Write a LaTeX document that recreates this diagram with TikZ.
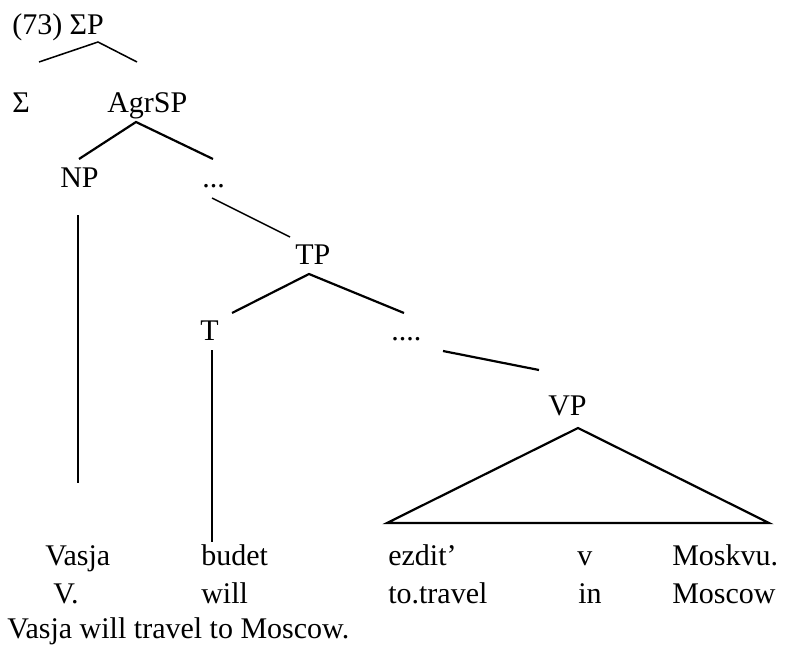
\documentclass[tikz,border=0pt]{standalone}
\usepackage{fontspec}
\setmainfont{Liberation Serif}
\begin{document}
\begin{tikzpicture}[x=0.75pt,y=-0.75pt,
  lbl/.style={anchor=base west,inner sep=0pt,font=\fontsize{22.5}{27}\selectfont},
  thinbr/.style={line width=1.15pt},
  thickbr/.style={line width=1.65pt}]
\useasboundingbox (0,0) rectangle (787,645);
% labels
\node[lbl] (ex) at (12,35) {(73) ΣP};
\node[lbl] (sig) at (12,113) {Σ};
\node[lbl] (agr) at (107,113) {AgrSP};
\node[lbl] (np) at (60,188) {NP};
\node[lbl] (d1) at (202,187) {...};
\node[lbl] (tp) at (295,264) {TP};
\node[lbl] (t) at (200,340) {T};
\node[lbl] (d2) at (391,340) {....};
\node[lbl] (vp) at (548,415) {VP};
% words
\node[lbl] (w1) at (45,565) {Vasja};
\node[lbl] (w2) at (201,565) {budet};
\node[lbl] (w3) at (388,565) {ezdit’};
\node[lbl] (w4) at (577,565) {v};
\node[lbl] (w5) at (672,565) {Moskvu.};
\node[lbl] (g1) at (53,603) {V.};
\node[lbl] (g2) at (201,603) {will};
\node[lbl] (g3) at (388,603) {to.travel};
\node[lbl] (g4) at (578,603) {in};
\node[lbl] (g5) at (672,603) {Moscow};
\node[lbl] (tr) at (7,638) {Vasja will travel to Moscow.};
% connector end points
\coordinate (a1) at (98,42);   \coordinate (a1l) at (39,62);  \coordinate (a1r) at (137,62);
\coordinate (a2) at (136,122); \coordinate (a2l) at (79,159); \coordinate (a2r) at (213,159);
\coordinate (a3) at (212,198); \coordinate (a3e) at (290,237);
\coordinate (a4) at (309,274); \coordinate (a4l) at (232,313); \coordinate (a4r) at (404,313);
\coordinate (a5) at (443,351); \coordinate (a5e) at (539,370);
\coordinate (n1) at (78,215);  \coordinate (n2) at (78,483);
\coordinate (t1) at (212,350); \coordinate (t2) at (212,542);
\coordinate (v0) at (578,428); \coordinate (vl) at (387,523); \coordinate (vr) at (769,523);
% branches
\draw[thinbr] (a1l) -- (a1) -- (a1r);
\draw[thickbr] (a2l) -- (a2) -- (a2r);
\draw[thinbr] (a3) -- (a3e);
\draw[thickbr] (a4l) -- (a4) -- (a4r);
\draw[thickbr] (a5) -- (a5e);
\draw[thickbr] (n1) -- (n2);
\draw[thickbr] (t1) -- (t2);
\draw[thickbr,line join=miter] (v0) -- (vl) -- (vr) -- cycle;
\end{tikzpicture}
\end{document}
